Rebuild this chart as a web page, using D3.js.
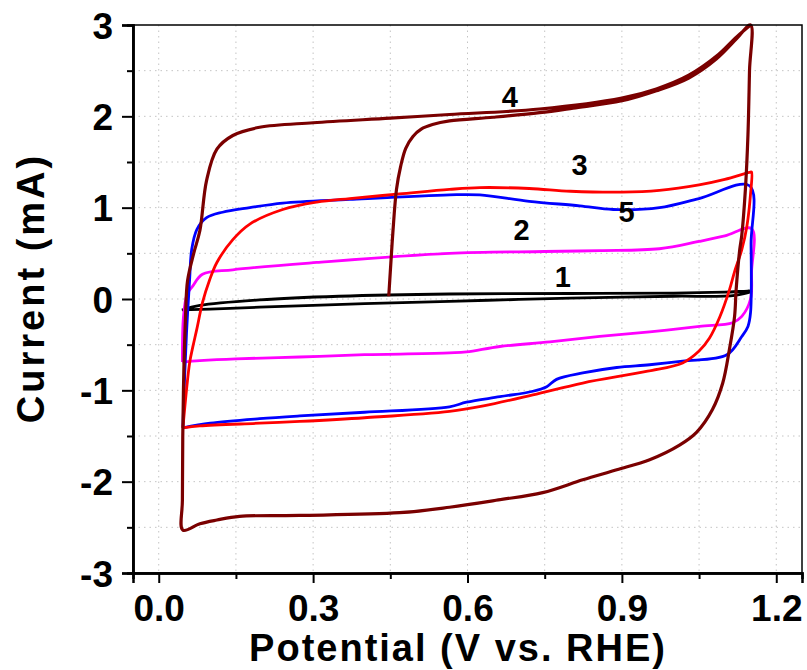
<!DOCTYPE html>
<html>
<head>
<meta charset="utf-8">
<script src="https://cdn.jsdelivr.net/npm/d3@7"></script>
<style>
  body { margin: 0; background: #fff; }
  text { font-family: "Liberation Sans", Arial, sans-serif; font-weight: bold; }
  .grid line { stroke: #c4c4c4; stroke-width: 1; stroke-dasharray: 1.5,4; }
</style>
</head>
<body>
<div id="chart"></div>
<script>
// curve 1 (black)
var cv1V = [0.045, 0.08, 0.196, 0.35, 0.565, 0.8, 1.0, 1.1, 1.152, 1.12, 1.0, 0.85, 0.7, 0.565, 0.4, 0.196, 0.1, 0.045];
var cv1I = [-0.12, -0.07, -0.01, 0.03, 0.055, 0.06, 0.065, 0.075, 0.085, 0.04, 0.03, 0.015, -0.005, -0.025, -0.05, -0.09, -0.11, -0.12];
// curve 2 (magenta)
var cv2V = [0.046, 0.048, 0.055, 0.066, 0.085, 0.144, 0.307, 0.565, 0.75, 0.857, 0.973, 1.05, 1.1, 1.152, 1.152, 1.15, 1.133, 1.115, 1.051, 0.954, 0.857, 0.76, 0.663, 0.598, 0.565, 0.4, 0.274, 0.15, 0.08, 0.046];
var cv2I = [-0.69, -0.2, 0.05, 0.14, 0.27, 0.32, 0.40, 0.5, 0.52, 0.53, 0.55, 0.63, 0.69, 0.77, 0.3, 0.0, -0.19, -0.26, -0.3, -0.36, -0.41, -0.47, -0.52, -0.58, -0.59, -0.61, -0.635, -0.655, -0.675, -0.69];
// curve 5 (blue)
var cv5V = [0.047, 0.05, 0.054, 0.06, 0.064, 0.074, 0.093, 0.124, 0.177, 0.241, 0.371, 0.565, 0.624, 0.72, 0.818, 0.883, 0.973, 1.05, 1.148, 1.151, 1.15, 1.145, 1.133, 1.104, 1.018, 0.954, 0.89, 0.824, 0.773, 0.754, 0.727, 0.663, 0.598, 0.565, 0.4, 0.274, 0.196, 0.1, 0.047];
var cv5I = [-1.41, -0.9, -0.37, 0.21, 0.54, 0.76, 0.89, 0.95, 1.0, 1.05, 1.09, 1.14, 1.14, 1.07, 1.02, 0.98, 1.0, 1.1, 1.24, 0.6, -0.15, -0.3, -0.41, -0.61, -0.68, -0.72, -0.75, -0.81, -0.88, -0.96, -1.01, -1.07, -1.13, -1.18, -1.24, -1.28, -1.31, -1.36, -1.41];
// curve 3 (red)
var cv3V = [0.047, 0.06, 0.066, 0.074, 0.085, 0.099, 0.113, 0.144, 0.177, 0.241, 0.307, 0.371, 0.468, 0.565, 0.624, 0.72, 0.8, 0.9, 0.973, 1.05, 1.1, 1.15, 1.152, 1.15, 1.143, 1.133, 1.119, 1.109, 1.09, 1.07, 1.05, 1.018, 0.95, 0.824, 0.727, 0.631, 0.565, 0.4, 0.274, 0.196, 0.08, 0.047];
var cv3I = [-1.41, -0.7, -0.53, -0.33, -0.04, 0.21, 0.4, 0.65, 0.82, 0.98, 1.06, 1.1, 1.15, 1.2, 1.22, 1.21, 1.18, 1.17, 1.19, 1.25, 1.31, 1.39, 1.39, 1.15, 0.8, 0.54, 0.3, 0.1, -0.2, -0.43, -0.57, -0.7, -0.79, -0.92, -1.05, -1.17, -1.23, -1.3, -1.34, -1.36, -1.39, -1.41];
// curve 4 (dark red)
var cv4V = [0.447, 0.45, 0.455, 0.462, 0.47, 0.48, 0.494, 0.51, 0.532, 0.565, 0.65, 0.74, 0.805, 0.9, 0.967, 1.03, 1.084, 1.123, 1.15,
            1.148, 1.145, 1.14, 1.133, 1.129, 1.122, 1.119, 1.109, 1.096, 1.076, 1.045, 1.012, 0.954, 0.89, 0.824, 0.746, 0.66, 0.565, 0.468, 0.274, 0.157, 0.113, 0.08, 0.047,
            0.046, 0.048, 0.052, 0.056, 0.068, 0.08, 0.093, 0.113, 0.144, 0.196, 0.3, 0.45, 0.565, 0.74, 0.9, 0.967, 1.03, 1.084, 1.123, 1.15];
var cv4I = [0.03, 0.3, 0.73, 1.2, 1.45, 1.65, 1.78, 1.86, 1.91, 1.95, 1.99, 2.04, 2.09, 2.17, 2.28, 2.42, 2.63, 2.85, 3.0,
            2.5, 1.8, 1.2, 0.7, 0.54, 0.1, -0.19, -0.55, -0.92, -1.21, -1.46, -1.6, -1.76, -1.87, -1.98, -2.12, -2.2, -2.28, -2.34, -2.37, -2.38, -2.42, -2.46, -2.53,
            -2.2, -1.0, -0.2, 0.2, 0.5, 0.75, 1.3, 1.64, 1.79, 1.88, 1.93, 1.98, 2.02, 2.08, 2.2, 2.3, 2.45, 2.66, 2.87, 3.0];

var curveNames = ["1", "2", "5", "3", "4"];
var curveColors = ["#000000", "#ff00ff", "#0000ff", "#ff0000", "#7a0000"];
var curveV = [cv1V, cv2V, cv5V, cv3V, cv4V];
var curveI = [cv1I, cv2I, cv5I, cv3I, cv4I];

var labelText = ["4", "3", "5", "2", "1"];
var labelV = [0.682, 0.818, 0.909, 0.705, 0.785];
var labelI = [2.22, 1.47, 0.96, 0.76, 0.25];

var xTicks = [0.0, 0.3, 0.6, 0.9, 1.2];
var yTicks = [-3, -2, -1, 0, 1, 2, 3];

var W = 807, H = 670,
    margin = {top: 25, right: 5, bottom: 97, left: 133},
    width = W - margin.left - margin.right,
    height = H - margin.top - margin.bottom;

var svg = d3.select("#chart").append("svg").attr("width", W).attr("height", H);
var g = svg.append("g").attr("transform", "translate(" + margin.left + "," + margin.top + ")");

var x = d3.scaleLinear().domain([-0.05, 1.25]).range([0, width]);
var y = d3.scaleLinear().domain([-3, 3]).range([height, 0]);

var xGrid = d3.range(0, 1.21, 0.15);
var yGrid = d3.range(-2.5, 2.6, 0.5);

g.append("g").attr("class", "grid").selectAll("line").data(xGrid).enter().append("line")
  .attr("x1", function(d) { return x(d); }).attr("x2", function(d) { return x(d); })
  .attr("y1", 0).attr("y2", height);
g.append("g").attr("class", "grid").selectAll("line").data(yGrid).enter().append("line")
  .attr("y1", function(d) { return y(d); }).attr("y2", function(d) { return y(d); })
  .attr("x1", 0).attr("x2", width);

var line = d3.line()
  .x(function(d) { return x(d[0]); })
  .y(function(d) { return y(d[1]); })
  .curve(d3.curveCatmullRom.alpha(0.5));

curveNames.forEach(function(name, k) {
  var pts = curveV[k].map(function(v, i) { return [v, curveI[k][i]]; });
  g.append("path")
    .attr("d", line(pts))
    .attr("fill", "none")
    .attr("stroke", curveColors[k])
    .attr("stroke-width", k === 4 ? 3.2 : 2.8)
    .attr("stroke-linejoin", "round");
});

g.selectAll(".lbl").data(labelText).enter().append("text")
  .attr("class", "lbl")
  .attr("x", function(d, i) { return x(labelV[i]); })
  .attr("y", function(d, i) { return y(labelI[i]); })
  .attr("dy", "0.36em")
  .attr("text-anchor", "middle")
  .style("font-size", "29px")
  .text(function(d) { return d; });

// frame
g.append("rect").attr("width", width).attr("height", height)
  .attr("fill", "none").attr("stroke", "#000").attr("stroke-width", 1.5);

// axes
var xAxis = g.append("g").attr("transform", "translate(0," + height + ")")
  .call(d3.axisBottom(x).tickValues(xTicks).tickFormat(d3.format(".1f")).tickSize(10).tickPadding(12));
var yAxis = g.append("g")
  .call(d3.axisLeft(y).tickValues(yTicks).tickFormat(function(d) { return String(d); }).tickSize(11).tickPadding(9));

g.append("g").attr("transform", "translate(0," + height + ")")
  .call(d3.axisBottom(x).tickValues(d3.range(0.15, 1.21, 0.3)).tickFormat("").tickSize(6));
g.append("g")
  .call(d3.axisLeft(y).tickValues(d3.range(-2.5, 2.6, 1)).tickFormat("").tickSize(6));

g.selectAll(".domain").attr("stroke", "#000").attr("stroke-width", 2.5);
g.selectAll(".tick line").attr("stroke", "#000").attr("stroke-width", 2);
xAxis.selectAll("text").style("font-size", "37px").attr("fill", "#000");
yAxis.selectAll("text").style("font-size", "37px").attr("fill", "#000").attr("dy", "0.36em");

svg.append("text")
  .attr("x", 458).attr("y", 661)
  .attr("text-anchor", "middle")
  .style("font-size", "38px")
  .style("letter-spacing", "2px")
  .text("Potential (V vs. RHE)");

svg.append("text")
  .attr("transform", "translate(44,288) rotate(-90)")
  .attr("text-anchor", "middle")
  .style("font-size", "38px")
  .style("letter-spacing", "3px")
  .text("Current (mA)");
</script>
</body>
</html>
